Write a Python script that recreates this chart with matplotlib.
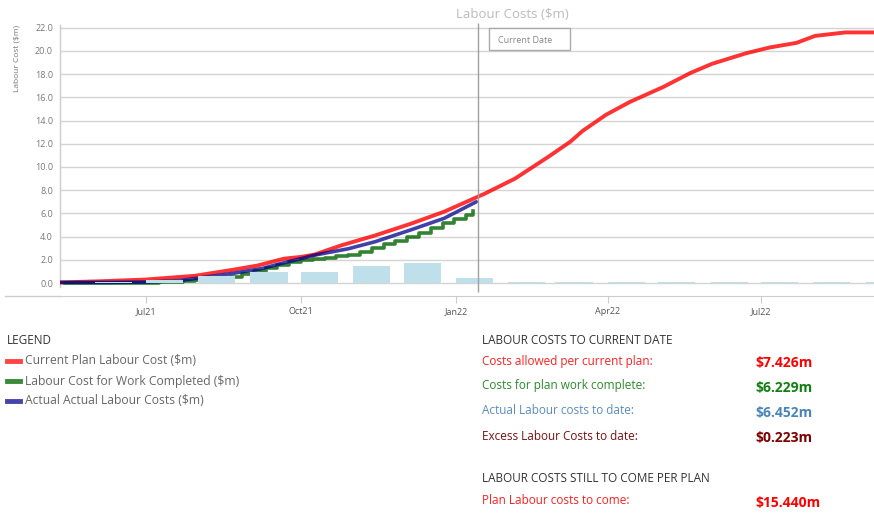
import matplotlib
matplotlib.use("Agg")
import matplotlib.pyplot as plt
import matplotlib.dates as mdates
from matplotlib.patches import Rectangle
from matplotlib.lines import Line2D
import numpy as np
import pandas as pd

plt.rcParams['font.family'] = ['Open Sans', 'DejaVu Sans']

# ---------------- data ----------------
plan_dates = ["2021-05-11", "2021-06-04", "2021-07-01", "2021-07-30", "2021-08-22",
              "2021-09-05", "2021-09-21", "2021-10-01", "2021-10-09", "2021-10-25",
              "2021-11-14", "2021-12-05", "2021-12-25", "2022-01-18", "2022-02-05",
              "2022-02-25", "2022-03-10", "2022-03-17", "2022-03-31", "2022-04-14",
              "2022-05-04", "2022-05-20", "2022-06-02", "2022-06-22", "2022-07-06",
              "2022-07-22", "2022-08-02", "2022-08-20", "2022-09-06"]
plan_cost = [0.05, 0.15, 0.3, 0.62, 1.15,
             1.5, 2.1, 2.25, 2.45, 3.25,
             4.1, 5.1, 6.15, 7.7, 9.0,
             10.9, 12.2, 13.1, 14.5, 15.6,
             16.9, 18.1, 18.9, 19.8, 20.3,
             20.7, 21.3, 21.6, 21.6]

actual_dates = ["2021-05-11", "2021-06-10", "2021-07-01", "2021-07-20", "2021-07-31",
                "2021-08-22", "2021-09-08", "2021-09-21", "2021-10-01", "2021-10-09",
                "2021-10-29", "2021-11-14", "2021-12-05", "2021-12-25", "2022-01-13"]
actual_cost = [0.05, 0.05, 0.08, 0.2, 0.4,
               0.84, 1.25, 1.75, 2.1, 2.4,
               2.95, 3.56, 4.57, 5.58, 7.0]

work_dates = ["2021-05-14", "2021-05-28", "2021-06-11", "2021-06-25", "2021-07-02",
              "2021-07-09", "2021-07-16", "2021-07-23", "2021-07-30", "2021-08-06",
              "2021-08-13", "2021-08-20", "2021-08-27", "2021-09-03", "2021-09-10",
              "2021-09-17", "2021-09-24", "2021-10-01", "2021-10-08", "2021-10-15",
              "2021-10-22", "2021-10-29", "2021-11-05", "2021-11-12", "2021-11-19",
              "2021-11-26", "2021-12-03", "2021-12-10", "2021-12-17", "2021-12-24",
              "2021-12-31", "2022-01-07", "2022-01-11"]
work_cost = [0.0, 0.0, 0.02, 0.03, 0.04,
             0.06, 0.1, 0.17, 0.3, 0.38,
             0.46, 0.55, 0.75, 1.0, 1.3,
             1.55, 1.78, 1.95, 2.08, 2.18,
             2.3, 2.45, 2.7, 3.05, 3.35,
             3.65, 3.95, 4.35, 4.7, 5.15,
             5.5, 5.85, 6.23]

bar_months = ["2021-06", "2021-07", "2021-08", "2021-09", "2021-10", "2021-11",
              "2021-12", "2022-01", "2022-02", "2022-03", "2022-04", "2022-05",
              "2022-06", "2022-07", "2022-08", "2022-09"]
bar_values = [0.1, 0.3, 0.6, 0.97, 0.97, 1.47, 1.7, 0.4,
              0.07, 0.07, 0.07, 0.07, 0.07, 0.07, 0.07, 0.07]

current_date = "2022-01-14"
x_start, x_end = "2021-05-11", "2022-09-06"

legend_labels = ["Current Plan Labour Cost ($m)", "Labour Cost for Work Completed ($m)",
                 "Actual Actual Labour Costs ($m)"]
summary_labels = ["Costs allowed per current plan:", "Costs for plan work complete:",
                  "Actual Labour costs to date:", "Excess Labour Costs to date:"]
summary_values = ["$7.426m", "$6.229m", "$6.452m", "$0.223m"]
tocome_label = "Plan Labour costs to come:"
tocome_value = "$15.440m"

# ---------------- figure ----------------
W, H = 874, 514
fig = plt.figure(figsize=(W / 100, H / 100), dpi=100)

def fx(px):
    return px / W

def fy(py):
    return 1 - py / H

ax = fig.add_axes([fx(60), fy(296), fx(874) - fx(60), fy(25) - fy(296)])
ax.set_ylim(-1.12, 22.24)
ax.set_xlim(pd.Timestamp(x_start), pd.Timestamp(x_end))
for s in ax.spines.values():
    s.set_visible(False)

ax.set_yticks(np.arange(0, 23, 2))
ax.yaxis.set_major_formatter(matplotlib.ticker.FormatStrFormatter('%.1f'))
ax.tick_params(axis='y', length=0, pad=5, labelsize=6.5, labelcolor='#777777')
ax.yaxis.grid(True, color='#d4d4d4', lw=1)
ax.set_axisbelow(True)
ax.set_xticks([])

# y axis line
ax.plot([0, 0], [-0.35, 22.24], transform=ax.get_yaxis_transform(), color='#cccccc', lw=1, clip_on=False)

red = '#ff0000'
green = '#006400'
blue = '#00008b'
ax.plot(pd.to_datetime(plan_dates), plan_cost, color=red, lw=2.8, alpha=0.8, solid_capstyle='round', zorder=3)
ax.plot(pd.to_datetime(work_dates), work_cost, color=green, lw=2.6, alpha=0.8, drawstyle='steps-post', zorder=3)
ax.plot(pd.to_datetime(actual_dates), actual_cost, color=blue, lw=2.6, alpha=0.75, solid_capstyle='round', zorder=3)

bar_x = pd.to_datetime(bar_months)
ax.bar(bar_x, bar_values, width=22, align='edge', color='#bfdfea', zorder=4)

ax.vlines(pd.Timestamp(current_date), -0.78, 22.41, color='#a0a0a0', lw=1, clip_on=False, zorder=5)

# secondary date axis
ax2 = fig.add_axes([fx(60), fy(296), fx(874) - fx(60), 0.0001])
ax2.set_xlim(pd.Timestamp(x_start), pd.Timestamp(x_end))
ax2.set_yticks([])
for k in ['left', 'right', 'top']:
    ax2.spines[k].set_visible(False)
ax2.spines['bottom'].set_color('#cccccc')
ax2.xaxis.set_major_locator(mdates.MonthLocator(bymonth=[1, 4, 7, 10]))
ax2.xaxis.set_major_formatter(mdates.DateFormatter('%b%y'))
ax2.tick_params(axis='x', length=5, color='#cccccc', labelsize=6.5, labelcolor='#555555', pad=3)
fig.add_artist(Line2D([fx(5), fx(60)], [fy(296), fy(296)], color='#cccccc', lw=1))

# title, label
fig.text(fx(512), fy(14), "Labour Costs ($m)", ha='center', va='center', fontsize=9.5, color='#bbbbbb')
fig.text(fx(17), fy(58), "Labour Cost ($m)", rotation=90, ha='center', va='center', fontsize=6, color='#777777')

# current date box
fig.add_artist(Rectangle((fx(489), fy(50)), fx(81), 22 / H, transform=fig.transFigure,
                         facecolor='white', edgecolor='#aaaaaa', lw=1, zorder=6))
fig.text(fx(498), fy(41), "Current Date", ha='left', va='center', fontsize=6.5, color='#888888', zorder=7)

# legend block
fig.text(fx(7), fy(340), "LEGEND", ha='left', va='center', fontsize=8.5, color='#333333')
leg_colors = ['#ff4444', '#3a8a3a', '#4444aa']
for i, (lab, c) in enumerate(zip(legend_labels, leg_colors)):
    yy = fy(361 + 20 * i)
    fig.add_artist(Line2D([fx(7), fx(20)], [yy, yy], color=c, lw=3.5))
    fig.text(fx(25), yy, lab, ha='left', va='center', fontsize=8.7, color='#666666')

# summary block
fig.text(fx(482), fy(340), "LABOUR COSTS TO CURRENT DATE", ha='left', va='center', fontsize=8.5, color='#333333')
lab_colors = ['#ff2020', '#2a8a2a', '#5a8cc0', '#7a1010']
val_colors = ['#ff0000', '#108010', '#4a84b8', '#800000']
ys = [361, 386, 411, 436]
for lab, val, lc, vc, y in zip(summary_labels, summary_values, lab_colors, val_colors, ys):
    fig.text(fx(482), fy(y), lab, ha='left', va='center', fontsize=8.5, color=lc)
    fig.text(fx(755), fy(y + 2), val, ha='left', va='center', fontsize=10, fontweight='bold', color=vc)

fig.text(fx(482), fy(479), "LABOUR COSTS STILL TO COME PER PLAN", ha='left', va='center', fontsize=8.5, color='#333333')
fig.text(fx(482), fy(501), tocome_label, ha='left', va='center', fontsize=8.5, color='#ff2020')
fig.text(fx(755), fy(503), tocome_value, ha='left', va='center', fontsize=10, fontweight='bold', color='#ff0000')

fig.savefig("out.png", dpi=100)
